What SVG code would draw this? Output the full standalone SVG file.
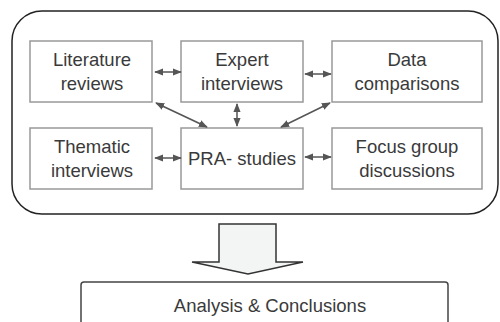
<svg xmlns="http://www.w3.org/2000/svg" width="500" height="322" viewBox="0 0 500 322">
<style>
.box{fill:#fff;stroke:#999;stroke-width:1.5}
.t{font-family:"Liberation Sans",Arial,sans-serif;font-size:18.5px;fill:#3a3a3a;text-anchor:middle}
.c{stroke:#555;stroke-width:1.5;fill:none;marker-start:url(#ah);marker-end:url(#ah)}
</style>
<defs>
<marker id="ah" viewBox="0 0 10 8" refX="9" refY="4" markerWidth="9" markerHeight="7.2" markerUnits="userSpaceOnUse" orient="auto-start-reverse">
<path d="M0,0 L10,4 L0,8 Z" fill="#555"/>
</marker>
</defs>
<rect id="frame" x="12" y="11" width="486" height="203" rx="30" ry="30" fill="#fff" stroke="#222" stroke-width="1.5"/>
<g id="literature"><rect class="box" x="30" y="41" width="122" height="61"/><text class="t" x="92" y="66">Literature</text><text class="t" x="92" y="90">reviews</text></g>
<g id="expert"><rect class="box" x="181" y="41" width="122" height="61"/><text class="t" x="242" y="66">Expert</text><text class="t" x="242" y="90">interviews</text></g>
<g id="data"><rect class="box" x="332" y="41" width="150" height="61"/><text class="t" x="407" y="66">Data</text><text class="t" x="407" y="90">comparisons</text></g>
<g id="thematic"><rect class="box" x="30" y="128" width="122" height="61"/><text class="t" x="92" y="153">Thematic</text><text class="t" x="92" y="177">interviews</text></g>
<g id="pra"><rect class="box" x="181" y="128" width="122" height="61"/><text class="t" x="242" y="165">PRA- studies</text></g>
<g id="focus"><rect class="box" x="332" y="128" width="150" height="61"/><text class="t" x="407" y="153">Focus group</text><text class="t" x="407" y="177">discussions</text></g>
<g id="connectors">
<line class="c" x1="155" y1="72" x2="181" y2="72"/>
<line class="c" x1="305" y1="74" x2="331" y2="74"/>
<line class="c" x1="155" y1="158" x2="181" y2="158"/>
<line class="c" x1="305" y1="157" x2="331" y2="157"/>
<line class="c" x1="156" y1="103" x2="207" y2="127"/>
<line class="c" x1="237" y1="104" x2="237" y2="126"/>
<line class="c" x1="330" y1="103" x2="281" y2="127"/>
</g>
<g id="bigarrow"><path d="M219,224 H276 V262 H303 L248,274 L192,262 H219 Z" fill="#f3f4f4" stroke="#333" stroke-width="1.5"/></g>
<g id="analysis"><path d="M81,322 V285 Q81,282 84,282 H445 Q448,282 448,285 V322" fill="#fff" stroke="#444" stroke-width="1.5"/><text class="t" x="270" y="312">Analysis &amp; Conclusions</text></g>
</svg>
